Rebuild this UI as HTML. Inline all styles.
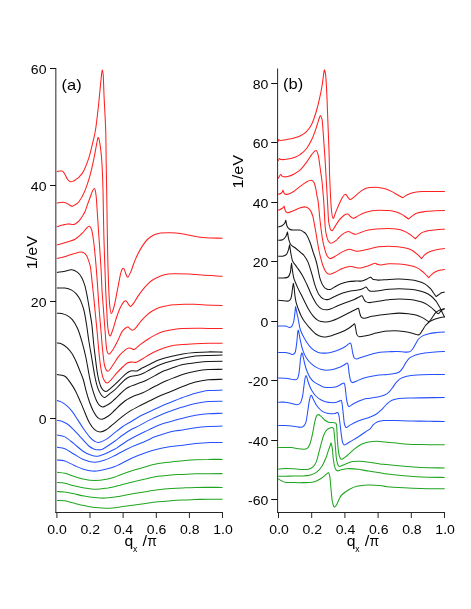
<!DOCTYPE html>
<html><head><meta charset="utf-8">
<style>
html,body{margin:0;padding:0;background:#fff;}
svg{display:block;font-family:"Liberation Sans",sans-serif;}
.c path{fill:none;stroke-width:1.05;stroke-linejoin:round;stroke-linecap:butt;}
.ax{stroke:#262626;stroke-width:1;fill:none;}
text{fill:#000;}
.t{opacity:0.999;}
</style></head><body>
<svg width="471" height="609" viewBox="0 0 471 609">
<rect width="471" height="609" fill="#fff"/>
<g class="c">
<path d="M56.8 171.5C57.3 171.4 59.0 171.2 60.0 171.1C61.0 171.0 61.7 170.6 62.5 171.2C63.3 171.8 64.2 173.0 65.0 174.4C65.8 175.8 66.7 178.3 67.6 179.5C68.5 180.7 69.7 181.4 70.6 181.7C71.5 182.0 72.4 181.5 73.2 181.2C74.0 180.9 74.2 180.8 75.2 180.0C76.2 179.2 78.1 178.1 79.5 176.6C80.9 175.1 82.2 174.0 83.8 170.8C85.4 167.6 87.6 161.7 89.1 157.2C90.5 152.7 91.4 148.1 92.5 143.6C93.6 139.1 94.6 135.6 95.5 130.0C96.4 124.4 97.2 116.7 98.0 110.0C98.8 103.3 99.4 95.8 100.0 90.0C100.6 84.2 101.1 78.3 101.5 75.0C101.9 71.7 102.0 69.9 102.3 69.9C102.6 69.9 102.9 70.8 103.2 75.0C103.5 79.2 103.6 85.8 104.0 95.0C104.4 104.2 105.3 118.5 105.7 130.0C106.1 141.5 106.0 152.7 106.2 164.0C106.4 175.3 106.6 183.7 106.8 198.0C107.0 212.3 107.3 234.7 107.6 250.0C107.9 265.3 108.4 280.7 108.8 290.0C109.2 299.3 109.4 302.1 109.8 306.0C110.2 309.9 110.6 313.4 111.3 313.4C112.0 313.4 113.3 309.4 114.2 306.0C115.1 302.6 116.2 296.4 116.8 293.2C117.4 290.0 117.3 290.6 118.0 287.0C118.7 283.4 120.1 274.9 121.1 271.8C122.0 268.7 122.9 268.0 123.7 268.4C124.5 268.8 125.2 272.5 125.9 274.0C126.6 275.5 127.0 277.5 127.8 277.2C128.6 276.9 129.7 274.4 130.7 272.1C131.7 269.8 132.7 266.2 133.9 263.2C135.1 260.2 136.2 257.3 137.7 254.3C139.2 251.3 141.1 248.0 142.8 245.4C144.5 242.8 146.0 240.8 147.9 239.0C149.8 237.2 152.2 235.8 154.3 234.8C156.4 233.8 158.4 233.3 160.7 233.0C163.0 232.7 165.8 232.7 168.3 232.7C170.9 232.7 173.2 232.6 176.0 232.9C178.8 233.2 181.8 233.7 185.0 234.3C188.2 234.9 192.1 235.9 195.5 236.5C198.9 237.1 201.2 237.4 205.7 237.7C210.2 238.0 219.7 238.1 222.5 238.2" stroke="#ff2020"/>
<path d="M56.8 203.2C57.3 203.1 58.7 202.7 60.0 202.6C61.3 202.5 63.1 202.2 64.4 202.4C65.7 202.6 66.7 203.4 68.0 204.0C69.3 204.6 70.8 206.1 72.0 206.2C73.2 206.3 74.3 205.2 75.5 204.5C76.7 203.8 77.4 204.0 78.9 201.8C80.5 199.6 83.0 195.4 84.8 191.1C86.6 186.8 88.3 181.6 89.9 175.9C91.5 170.2 93.1 162.6 94.2 157.2C95.3 151.8 96.0 146.9 96.7 143.6C97.4 140.3 97.8 137.0 98.4 137.6C99.0 138.2 99.8 142.6 100.4 147.0C101.0 151.4 101.6 156.8 102.0 164.0C102.4 171.2 102.7 177.3 103.0 190.0C103.3 202.7 103.5 223.3 104.0 240.0C104.5 256.7 105.2 278.1 105.7 290.0C106.2 301.9 106.5 305.0 106.8 311.2C107.1 317.4 107.3 323.1 107.8 327.2C108.3 331.3 109.1 335.4 109.9 335.9C110.7 336.4 111.4 333.5 112.6 330.3C113.8 327.1 115.4 320.6 116.8 316.5C118.2 312.4 119.6 308.5 121.1 305.9C122.5 303.3 124.3 301.1 125.5 300.8C126.7 300.5 127.7 303.4 128.5 304.3C129.3 305.2 129.6 306.7 130.5 306.5C131.4 306.3 132.7 304.5 133.9 302.9C135.1 301.2 136.2 298.8 137.7 296.6C139.2 294.4 141.1 291.7 142.8 289.6C144.5 287.5 146.2 285.4 147.9 283.8C149.6 282.2 150.9 281.1 153.0 279.8C155.1 278.5 158.1 277.0 160.7 276.0C163.2 275.0 165.8 274.4 168.3 274.0C170.9 273.6 172.5 273.7 176.0 273.7C179.5 273.7 184.8 273.8 189.1 274.0C193.4 274.2 196.2 274.7 201.8 275.1C207.4 275.5 219.1 276.0 222.5 276.2" stroke="#ff2020"/>
<path d="M56.8 226.8C57.8 226.5 60.6 225.6 62.5 225.1C64.4 224.6 66.4 224.0 68.1 223.9C69.8 223.8 71.5 224.5 72.8 224.5C74.0 224.5 74.5 224.3 75.6 223.7C76.7 223.0 78.2 221.8 79.3 220.6C80.4 219.4 81.3 218.1 82.2 216.6C83.1 215.1 84.1 213.7 84.9 211.8C85.7 209.9 86.4 207.7 87.2 205.4C88.0 203.1 89.0 200.4 89.9 198.0C90.8 195.6 91.7 192.7 92.5 191.1C93.3 189.5 94.0 188.4 94.5 188.6C95.0 188.8 95.3 190.1 95.6 192.0C95.9 193.9 96.2 195.8 96.5 200.0C96.8 204.2 97.1 209.9 97.6 217.0C98.1 224.1 98.7 234.0 99.3 242.5C99.9 251.0 100.5 260.1 101.0 268.0C101.5 275.9 101.6 282.8 102.0 290.0C102.4 297.2 103.1 304.1 103.6 311.2C104.1 318.3 104.7 326.0 105.2 332.5C105.7 339.0 106.1 346.4 106.8 350.0C107.5 353.6 108.1 354.2 109.2 354.1C110.3 354.0 111.8 351.5 113.2 349.2C114.7 346.9 116.4 343.5 117.9 340.5C119.4 337.5 120.6 333.6 122.2 331.4C123.8 329.2 126.2 327.5 127.5 327.1C128.8 326.7 129.2 328.3 130.0 328.8C130.8 329.3 131.4 330.5 132.4 330.3C133.4 330.1 134.5 329.2 135.8 327.8C137.1 326.4 138.7 323.9 140.3 322.0C141.9 320.1 143.5 318.1 145.4 316.3C147.3 314.5 149.5 312.7 151.8 311.2C154.1 309.7 156.7 308.4 159.4 307.4C162.2 306.4 165.5 305.8 168.3 305.4C171.1 304.9 173.2 304.9 176.0 304.7C178.8 304.5 182.0 304.4 185.0 304.3C188.0 304.2 190.7 304.2 194.0 304.3C197.3 304.4 200.2 304.8 205.0 305.0C209.8 305.2 219.6 305.5 222.5 305.6" stroke="#ff2020"/>
<path d="M56.8 245.0C58.5 244.5 63.9 243.0 67.0 242.0C70.1 241.0 73.0 240.5 75.5 239.0C78.0 237.5 80.5 235.0 82.3 233.2C84.1 231.4 85.3 229.5 86.5 228.3C87.7 227.2 88.6 226.1 89.4 226.3C90.2 226.5 90.9 227.2 91.6 229.7C92.3 232.1 92.9 236.1 93.6 241.0C94.2 245.9 94.9 252.6 95.5 259.4C96.1 266.2 96.7 273.4 97.3 282.0C97.9 290.6 98.6 302.4 99.3 311.2C100.0 320.0 100.7 328.2 101.3 335.0C101.9 341.8 102.2 346.9 102.8 352.0C103.3 357.1 103.8 362.3 104.6 365.5C105.4 368.7 106.5 371.3 107.8 371.3C109.1 371.3 110.7 368.1 112.6 365.5C114.5 362.9 116.9 358.5 119.0 355.9C121.1 353.3 123.6 351.1 125.3 349.8C127.0 348.5 128.0 348.3 129.0 348.1C130.0 347.9 130.6 348.4 131.5 348.6C132.4 348.8 133.1 350.0 134.5 349.3C135.9 348.6 138.0 346.2 140.2 344.6C142.4 343.0 145.2 341.0 147.5 339.5C149.8 338.0 151.7 336.7 154.3 335.4C156.9 334.1 160.0 332.6 163.2 331.6C166.4 330.6 170.2 329.9 173.4 329.4C176.7 328.9 179.0 328.6 182.7 328.4C186.4 328.2 191.2 328.2 195.5 328.2C199.8 328.2 203.7 328.4 208.2 328.4C212.7 328.4 220.1 328.4 222.5 328.4" stroke="#ff2020"/>
<path d="M56.8 258.6C58.5 258.2 63.9 256.9 67.0 256.0C70.1 255.1 73.1 253.8 75.5 253.2C77.9 252.5 80.0 252.0 81.6 252.1C83.2 252.2 84.0 252.9 85.0 253.7C86.0 254.5 86.6 255.7 87.3 257.1C88.0 258.6 88.6 260.5 89.2 262.4C89.8 264.3 90.2 265.0 90.7 268.7C91.2 272.4 91.9 280.2 92.4 284.6C92.9 289.0 93.0 290.6 93.5 295.0C94.0 299.4 94.5 304.9 95.1 311.2C95.7 317.4 96.5 325.1 97.2 332.5C97.9 339.9 98.6 349.3 99.3 355.9C100.0 362.4 100.7 367.7 101.5 371.8C102.3 375.9 103.1 378.4 104.1 380.3C105.1 382.2 106.1 383.2 107.3 383.0C108.5 382.8 109.9 381.0 111.5 379.3C113.1 377.6 114.8 375.0 116.8 372.9C118.8 370.8 121.4 368.2 123.2 366.5C125.0 364.8 126.2 363.4 127.7 362.7C129.2 362.0 130.6 362.2 132.0 362.1C133.4 362.0 134.5 362.8 136.3 362.2C138.1 361.6 140.3 360.2 142.7 358.8C145.0 357.4 147.6 355.5 150.4 354.0C153.2 352.5 155.9 351.1 159.3 349.7C162.7 348.3 166.9 346.8 170.8 345.9C174.7 345.0 178.6 344.9 182.7 344.5C186.8 344.1 191.2 343.9 195.5 343.7C199.8 343.5 203.7 343.4 208.2 343.3C212.7 343.2 220.1 343.3 222.5 343.3" stroke="#ff2020"/>
<path d="M56.9 272.4C58.0 272.2 61.3 271.8 63.8 271.4C66.3 271.0 69.5 269.6 71.8 269.8C74.1 270.0 75.9 271.1 77.6 272.4C79.3 273.7 80.6 275.4 81.8 277.7C83.0 280.0 84.0 282.6 85.0 286.2C86.0 289.8 86.9 294.8 87.7 299.0C88.5 303.2 89.1 307.4 89.8 311.7C90.5 316.0 91.3 319.9 91.9 325.0C92.5 330.1 93.0 336.9 93.5 342.0C94.0 347.1 94.4 350.4 95.1 355.9C95.8 361.4 96.7 369.9 97.7 375.0C98.7 380.1 99.6 383.9 100.9 386.7C102.2 389.4 104.1 391.2 105.7 391.5C107.3 391.8 109.0 389.5 110.5 388.3C112.0 387.1 113.4 385.8 115.0 384.3C116.6 382.8 118.4 381.0 120.1 379.3C121.8 377.6 123.7 375.6 125.2 374.3C126.8 373.0 128.1 372.0 129.4 371.4C130.7 370.8 131.5 370.9 132.8 370.8C134.1 370.7 135.4 371.4 137.1 370.9C138.8 370.4 140.5 368.9 142.7 367.8C144.9 366.7 147.6 365.3 150.4 364.0C153.2 362.7 155.9 361.0 159.3 359.8C162.7 358.6 166.9 357.6 170.8 356.6C174.7 355.6 178.6 354.6 182.7 353.9C186.8 353.2 191.2 352.8 195.5 352.5C199.8 352.2 203.7 352.0 208.2 351.9C212.7 351.8 220.1 352.1 222.5 352.1" stroke="#141414"/>
<path d="M56.9 288.0C58.2 288.0 62.5 287.8 64.9 288.1C67.3 288.4 69.3 288.9 71.2 289.9C73.1 290.9 74.9 292.3 76.5 294.2C78.1 296.1 79.5 298.4 80.8 301.1C82.0 303.8 83.0 306.6 84.0 310.6C85.0 314.6 85.8 320.1 86.6 325.0C87.4 329.9 87.9 334.9 88.7 340.0C89.5 345.1 90.4 350.1 91.4 355.9C92.4 361.7 93.5 369.7 94.6 375.0C95.6 380.3 96.5 384.4 97.7 387.8C98.9 391.2 100.3 393.6 101.5 395.2C102.7 396.8 103.3 397.8 104.8 397.4C106.3 397.0 108.8 394.4 110.5 393.1C112.2 391.8 113.4 391.1 115.0 389.7C116.6 388.2 118.4 386.1 120.1 384.4C121.8 382.7 123.5 380.8 125.2 379.5C126.9 378.2 128.8 377.2 130.3 376.6C131.9 376.0 133.1 376.0 134.5 375.7C135.9 375.4 137.2 375.4 138.8 375.0C140.4 374.6 142.0 373.9 143.9 373.0C145.8 372.1 147.8 370.8 150.4 369.5C153.0 368.2 155.9 366.4 159.3 365.0C162.7 363.6 166.9 362.4 170.8 361.3C174.7 360.2 178.6 359.1 182.7 358.2C186.8 357.3 191.2 356.5 195.5 356.0C199.8 355.5 203.7 355.5 208.2 355.4C212.7 355.2 220.1 355.2 222.5 355.1" stroke="#141414"/>
<path d="M56.9 313.3C57.7 313.3 60.0 313.1 61.7 313.5C63.4 313.9 65.2 314.4 67.0 315.4C68.8 316.4 70.5 317.5 72.3 319.7C74.1 321.9 76.0 324.9 77.6 328.5C79.2 332.1 80.4 336.3 81.8 341.2C83.2 346.1 84.8 352.2 86.0 358.0C87.2 363.8 88.3 371.1 89.3 376.0C90.3 380.9 90.8 383.6 92.0 387.7C93.2 391.8 95.0 397.4 96.3 400.3C97.5 403.2 98.4 404.2 99.5 405.3C100.6 406.4 101.3 407.2 103.0 407.0C104.7 406.8 107.4 405.1 109.4 403.8C111.4 402.5 113.2 400.6 115.0 399.0C116.8 397.4 118.4 395.6 120.1 394.0C121.8 392.4 123.5 390.6 125.2 389.3C126.9 388.0 128.7 387.2 130.3 386.4C131.9 385.6 133.3 385.3 135.0 384.7C136.7 384.1 138.6 383.4 140.5 382.6C142.4 381.9 144.0 381.4 146.4 380.2C148.8 379.0 152.4 377.0 155.0 375.6C157.6 374.2 159.4 372.9 162.0 371.7C164.6 370.5 167.4 369.8 170.8 368.6C174.2 367.4 178.6 365.6 182.7 364.6C186.8 363.6 191.2 363.2 195.5 362.7C199.8 362.2 203.7 361.7 208.2 361.5C212.7 361.3 220.1 361.3 222.5 361.3" stroke="#141414"/>
<path d="M56.9 343.0C57.7 343.1 60.0 343.1 61.7 343.9C63.4 344.7 65.2 345.9 67.0 347.6C68.8 349.3 70.7 351.5 72.3 354.0C73.9 356.5 75.1 359.3 76.5 362.5C77.9 365.7 79.6 370.2 80.8 373.1C82.0 376.0 82.5 377.0 83.4 380.0C84.3 383.0 85.1 387.2 86.1 390.9C87.1 394.6 88.3 398.6 89.5 402.0C90.7 405.4 92.1 408.9 93.5 411.5C94.9 414.1 96.3 416.3 97.7 417.6C99.1 418.9 100.2 419.5 102.0 419.2C103.8 418.9 106.2 417.5 108.4 416.0C110.6 414.5 113.0 411.8 115.0 410.0C117.0 408.2 118.4 406.5 120.1 405.0C121.8 403.5 123.5 402.0 125.2 400.8C126.9 399.6 128.4 398.8 130.3 397.8C132.2 396.9 134.5 395.9 136.5 395.1C138.5 394.3 140.1 393.9 142.2 393.0C144.3 392.1 146.8 390.8 149.0 389.6C151.2 388.4 152.7 387.4 155.5 386.0C158.3 384.6 162.3 382.5 165.7 381.0C169.1 379.5 173.1 378.1 175.9 377.0C178.7 375.9 179.4 375.4 182.7 374.5C186.0 373.6 191.2 372.1 195.5 371.3C199.8 370.5 203.7 369.9 208.2 369.6C212.7 369.3 220.1 369.4 222.5 369.3" stroke="#141414"/>
<path d="M56.9 374.4C57.7 374.5 60.2 374.8 61.7 375.2C63.2 375.6 64.5 375.8 65.9 377.0C67.3 378.2 68.6 380.1 70.2 382.4C71.8 384.7 73.7 387.5 75.5 390.9C77.3 394.3 79.2 399.0 80.8 402.6C82.4 406.2 83.6 409.5 85.0 412.8C86.4 416.1 87.7 419.7 89.3 422.5C90.9 425.3 92.8 428.1 94.6 429.7C96.4 431.3 98.3 432.0 100.2 432.0C102.1 432.0 103.8 431.3 106.2 429.8C108.6 428.3 111.9 425.2 114.7 422.9C117.5 420.6 120.7 417.8 123.2 415.8C125.8 413.8 127.2 412.8 130.0 411.1C132.8 409.4 136.8 407.3 140.2 405.5C143.6 403.7 147.0 402.2 150.4 400.5C153.8 398.8 157.2 397.0 160.6 395.5C164.0 394.0 167.1 392.9 170.8 391.4C174.5 389.9 178.6 388.2 182.7 386.6C186.8 385.1 191.2 383.2 195.5 382.1C199.8 381.0 203.7 380.3 208.2 379.8C212.7 379.3 220.1 379.4 222.5 379.3" stroke="#141414"/>
<path d="M56.9 400.5C57.7 400.8 60.0 401.2 61.7 402.1C63.4 403.0 65.2 404.2 67.0 405.8C68.8 407.4 70.5 409.3 72.3 411.6C74.1 413.9 75.8 416.8 77.6 419.6C79.4 422.4 81.2 425.3 83.2 428.2C85.2 431.1 87.7 434.6 89.6 436.8C91.5 439.0 93.1 440.3 94.6 441.2C96.1 442.1 96.9 442.7 98.8 442.4C100.7 442.1 103.5 441.0 106.2 439.4C108.9 437.8 111.9 434.9 114.7 432.7C117.5 430.5 120.7 427.9 123.2 426.2C125.8 424.5 127.2 424.0 130.0 422.3C132.8 420.6 136.8 417.8 140.2 416.0C143.6 414.2 147.0 412.9 150.4 411.3C153.8 409.7 157.2 407.9 160.6 406.4C164.0 404.9 167.1 403.7 170.8 402.2C174.5 400.7 178.6 399.0 182.7 397.5C186.8 396.0 191.2 394.3 195.5 393.2C199.8 392.1 203.7 391.1 208.2 390.6C212.7 390.1 220.1 390.2 222.5 390.1" stroke="#2450ff"/>
<path d="M56.9 420.4C57.7 420.5 60.0 420.6 61.7 421.2C63.4 421.8 65.2 422.6 67.0 423.8C68.8 425.0 70.3 426.3 72.3 428.3C74.3 430.3 76.5 432.7 79.2 435.6C82.0 438.6 86.2 443.7 88.8 446.0C91.4 448.3 93.1 448.6 94.6 449.2C96.1 449.8 96.4 449.8 97.6 449.8C98.8 449.8 100.3 450.1 102.0 449.4C103.7 448.7 105.8 447.2 108.0 445.8C110.2 444.4 112.6 442.7 115.0 441.0C117.4 439.3 119.7 437.3 122.2 435.5C124.7 433.7 127.0 431.9 130.0 430.2C133.0 428.5 136.8 426.9 140.2 425.1C143.6 423.3 147.0 421.3 150.4 419.6C153.8 417.9 157.2 416.3 160.6 414.9C164.0 413.5 167.1 412.3 170.8 411.0C174.5 409.7 178.6 408.2 182.7 407.0C186.8 405.8 191.2 404.5 195.5 403.6C199.8 402.7 203.7 402.0 208.2 401.6C212.7 401.2 220.1 401.3 222.5 401.2" stroke="#2450ff"/>
<path d="M57.0 435.0C58.3 435.3 62.1 435.5 64.9 436.9C67.7 438.3 70.8 441.2 73.8 443.6C76.8 446.0 80.0 449.1 82.7 451.0C85.4 452.9 87.6 453.9 90.1 454.8C92.6 455.7 94.6 456.6 97.6 456.2C100.6 455.8 105.1 453.7 108.0 452.5C110.9 451.3 113.0 450.1 115.0 449.0C117.0 447.9 117.5 447.3 120.0 445.7C122.5 444.1 126.6 441.2 130.0 439.3C133.4 437.4 136.8 435.7 140.2 434.0C143.6 432.3 147.0 430.5 150.4 428.9C153.8 427.3 157.2 425.7 160.6 424.5C164.0 423.3 167.1 422.6 170.8 421.5C174.5 420.4 178.6 419.2 182.7 418.2C186.8 417.2 191.2 416.1 195.5 415.3C199.8 414.6 203.7 414.0 208.2 413.7C212.7 413.4 220.1 413.4 222.5 413.3" stroke="#2450ff"/>
<path d="M57.0 447.3C58.3 447.6 62.1 447.7 64.9 448.8C67.7 449.9 70.8 452.3 73.8 454.0C76.8 455.7 79.2 457.8 82.7 459.2C86.2 460.6 90.9 462.1 94.6 462.2C98.3 462.3 101.6 461.1 105.0 460.0C108.4 458.9 112.5 456.7 115.0 455.5C117.5 454.3 117.0 454.2 120.0 452.7C123.0 451.2 129.8 447.8 132.7 446.4C135.6 445.0 135.5 445.4 137.6 444.5C139.7 443.6 142.4 442.5 145.4 441.2C148.4 439.9 152.1 437.9 155.5 436.6C158.9 435.3 162.3 434.2 165.7 433.2C169.1 432.2 173.1 431.3 175.9 430.8C178.7 430.3 179.4 430.5 182.7 430.0C186.0 429.5 191.2 428.3 195.5 427.7C199.8 427.1 203.7 426.7 208.2 426.4C212.7 426.1 220.1 426.2 222.5 426.1" stroke="#2450ff"/>
<path d="M57.0 460.0C58.3 460.2 62.1 460.1 64.9 461.0C67.7 461.9 70.8 463.9 73.8 465.2C76.8 466.5 79.2 467.9 82.7 468.9C86.2 469.9 90.6 471.1 94.6 471.1C98.6 471.1 103.1 469.7 106.5 468.9C109.9 468.1 112.8 467.3 115.0 466.5C117.2 465.7 117.0 465.6 120.0 464.2C123.0 462.8 128.4 459.7 132.7 457.8C136.9 455.9 141.2 454.2 145.5 452.7C149.8 451.2 153.9 449.9 158.2 448.9C162.4 447.9 166.9 447.2 171.0 446.6C175.1 446.0 178.6 445.8 182.7 445.3C186.8 444.8 190.8 444.1 195.5 443.6C200.2 443.1 206.3 442.7 210.8 442.5C215.3 442.3 220.6 442.5 222.5 442.5" stroke="#2450ff"/>
<path d="M57.0 472.3C58.3 472.5 62.1 472.6 64.9 473.3C67.7 474.0 70.6 475.3 73.8 476.3C77.0 477.3 80.7 478.6 84.2 479.3C87.7 480.0 90.9 480.5 94.6 480.5C98.3 480.5 103.1 479.9 106.5 479.3C109.9 478.7 112.8 477.7 115.0 477.0C117.2 476.3 117.0 476.1 120.0 475.0C123.0 473.9 128.4 472.0 132.7 470.6C136.9 469.2 141.2 468.0 145.5 466.8C149.8 465.6 153.9 464.4 158.2 463.6C162.4 462.8 166.9 462.4 171.0 461.9C175.1 461.4 178.6 461.2 182.7 460.8C186.8 460.4 191.2 459.9 195.5 459.7C199.8 459.5 203.7 459.4 208.2 459.4C212.7 459.3 220.1 459.4 222.5 459.4" stroke="#1fa51f"/>
<path d="M57.0 482.5C58.3 482.6 62.1 482.8 64.9 483.3C67.7 483.8 70.6 484.9 73.8 485.7C77.0 486.5 80.5 487.3 84.2 487.9C87.9 488.5 92.1 489.2 96.1 489.2C100.1 489.2 104.8 488.3 108.0 487.9C111.2 487.4 113.0 486.9 115.0 486.5C117.0 486.1 117.0 485.9 120.0 485.2C123.0 484.4 128.4 483.1 132.7 482.0C136.9 480.9 141.2 479.8 145.5 478.9C149.8 477.9 153.9 477.0 158.2 476.3C162.4 475.6 166.9 475.2 171.0 474.9C175.1 474.6 178.6 474.6 182.7 474.4C186.8 474.2 188.9 473.9 195.5 473.8C202.1 473.7 218.0 473.6 222.5 473.6" stroke="#1fa51f"/>
<path d="M57.0 491.6C58.3 491.7 62.1 491.5 64.9 491.9C67.7 492.2 70.6 493.0 73.8 493.7C77.0 494.4 80.7 495.5 84.2 496.1C87.7 496.8 91.1 497.3 94.6 497.6C98.1 497.9 101.6 498.2 105.0 498.1C108.4 498.0 112.5 497.3 115.0 497.0C117.5 496.7 117.0 496.7 120.0 496.2C123.0 495.7 128.4 494.6 132.7 493.8C136.9 493.1 141.2 492.4 145.5 491.7C149.8 491.0 153.9 490.3 158.2 489.8C162.4 489.3 166.9 488.9 171.0 488.6C175.1 488.3 178.6 488.1 182.7 487.9C186.8 487.7 188.9 487.5 195.5 487.4C202.1 487.3 218.0 487.4 222.5 487.4" stroke="#1fa51f"/>
<path d="M57.0 500.4C58.3 500.5 62.1 500.4 64.9 500.8C67.7 501.2 70.6 502.3 73.8 503.1C77.0 503.9 80.7 504.9 84.2 505.6C87.7 506.3 90.4 507.1 94.6 507.5C98.8 507.9 105.2 508.4 109.4 508.3C113.6 508.2 116.1 507.6 120.0 507.1C123.9 506.6 128.4 505.8 132.7 505.2C136.9 504.6 141.2 504.0 145.5 503.4C149.8 502.8 153.9 502.2 158.2 501.8C162.4 501.4 166.9 501.1 171.0 500.8C175.1 500.5 178.6 500.3 182.7 500.1C186.8 499.9 191.2 499.6 195.5 499.5C199.8 499.4 203.7 499.2 208.2 499.2C212.7 499.1 220.1 499.2 222.5 499.2" stroke="#1fa51f"/>
<path d="M278.2 141.6C278.3 141.2 278.4 139.7 278.8 139.5C279.2 139.3 279.2 140.5 280.7 140.5C282.2 140.5 285.5 139.7 287.7 139.3C289.9 138.9 292.0 138.5 294.1 137.9C296.2 137.3 298.5 136.7 300.5 135.7C302.5 134.7 304.3 133.7 306.2 131.8C308.1 129.9 309.9 128.0 311.6 124.5C313.3 121.0 315.1 115.4 316.4 111.0C317.7 106.6 318.7 102.5 319.6 98.2C320.6 94.0 321.5 89.4 322.1 85.5C322.8 81.6 323.1 77.6 323.5 75.0C323.9 72.4 324.1 70.2 324.4 69.9C324.7 69.6 325.0 71.5 325.3 73.0C325.6 74.5 325.7 74.9 326.0 79.1C326.3 83.3 326.7 90.5 327.0 98.2C327.3 105.9 327.7 116.3 328.0 125.0C328.3 133.7 328.7 142.0 329.0 150.5C329.3 159.0 329.4 168.5 329.6 176.0C329.9 183.5 330.2 189.8 330.5 195.5C330.8 201.2 331.1 206.7 331.5 210.5C331.9 214.3 332.5 218.2 333.2 218.4C333.9 218.7 334.8 214.3 335.8 212.0C336.8 209.7 337.8 206.9 339.0 204.4C340.2 201.9 341.7 198.5 342.8 196.8C343.9 195.1 344.8 194.1 345.6 194.2C346.5 194.3 347.1 196.5 347.9 197.4C348.7 198.3 349.4 199.7 350.5 199.6C351.6 199.5 352.8 198.0 354.3 196.8C355.8 195.6 357.7 193.6 359.4 192.3C361.1 191.0 362.8 189.9 364.5 189.1C366.2 188.3 367.7 187.9 369.6 187.6C371.5 187.3 374.3 187.2 376.0 187.2C377.7 187.2 378.4 187.5 380.0 187.8C381.6 188.1 383.9 188.4 385.9 189.0C387.9 189.6 389.9 190.6 391.9 191.6C393.9 192.6 396.0 194.0 397.8 195.0C399.6 196.0 401.9 197.3 402.7 197.8C403.4 197.3 405.1 195.8 406.8 195.0C408.5 194.2 410.2 193.3 412.7 192.7C415.2 192.1 418.4 191.8 421.6 191.6C424.8 191.4 428.1 191.4 432.0 191.4C435.9 191.4 442.8 191.4 444.9 191.4" stroke="#ff2020"/>
<path d="M278.2 160.7C278.4 160.3 279.0 158.8 279.5 158.6C280.0 158.4 280.0 159.5 281.4 159.6C282.8 159.7 285.6 159.4 287.7 159.1C289.8 158.8 292.0 158.3 294.1 157.5C296.2 156.7 298.4 155.9 300.5 154.3C302.6 152.8 304.9 150.7 306.8 148.2C308.7 145.7 310.5 142.0 311.9 139.2C313.3 136.4 314.2 133.8 315.1 131.3C316.0 128.8 316.7 126.2 317.4 124.0C318.1 121.8 318.8 119.4 319.3 118.0C319.8 116.6 320.1 115.4 320.5 115.4C320.9 115.4 321.3 116.9 321.6 118.0C321.9 119.1 322.0 117.7 322.4 122.0C322.8 126.3 323.5 137.2 324.0 144.1C324.5 151.0 324.9 156.8 325.3 163.2C325.7 169.6 326.0 175.9 326.4 182.3C326.8 188.7 327.1 195.4 327.5 201.8C327.9 208.2 328.2 216.5 328.6 221.0C329.1 225.5 329.6 227.0 330.2 228.6C330.8 230.2 331.6 230.9 332.4 230.5C333.2 230.1 334.1 227.8 335.2 226.1C336.3 224.4 337.5 222.1 339.0 220.3C340.5 218.5 342.7 216.2 344.1 215.2C345.6 214.1 346.6 213.8 347.7 214.0C348.8 214.2 349.5 215.8 350.5 216.5C351.5 217.2 352.4 218.3 353.7 218.2C355.0 218.1 356.3 216.8 358.1 215.9C359.9 215.0 362.2 213.5 364.5 212.7C366.8 211.8 369.8 211.2 372.1 210.8C374.4 210.4 375.7 210.3 378.5 210.3C381.3 210.3 385.9 210.3 388.9 210.6C391.9 210.9 394.1 211.4 396.3 212.1C398.5 212.8 400.7 213.7 402.3 214.6C403.9 215.5 404.9 216.6 406.0 217.3C407.1 218.0 408.2 218.7 408.7 219.0C409.2 218.5 410.6 217.1 412.0 216.1C413.4 215.1 415.1 213.8 417.2 213.1C419.3 212.3 421.6 212.0 424.6 211.6C427.6 211.2 431.6 210.9 435.0 210.7C438.4 210.5 443.2 210.4 444.9 210.4" stroke="#ff2020"/>
<path d="M278.2 178.5C278.6 177.8 280.0 174.8 280.7 174.5C281.4 174.2 281.4 176.2 282.6 176.6C283.8 176.9 285.8 177.0 287.7 176.6C289.6 176.2 292.0 175.2 294.1 174.0C296.2 172.8 298.4 171.6 300.5 169.6C302.6 167.6 304.9 164.4 306.8 161.9C308.7 159.4 310.4 156.2 311.9 154.3C313.4 152.4 314.9 150.3 316.0 150.5C317.1 150.7 317.6 152.6 318.3 155.6C319.0 158.6 319.6 163.9 320.2 168.3C320.8 172.8 321.6 177.5 322.1 182.3C322.6 187.1 323.0 192.5 323.4 197.0C323.8 201.5 323.9 203.9 324.2 209.1C324.5 214.3 324.9 223.7 325.3 228.2C325.7 232.7 326.1 233.8 326.6 236.0C327.1 238.2 327.8 240.1 328.5 241.3C329.2 242.5 329.8 243.2 330.7 243.3C331.6 243.4 332.9 242.5 333.9 242.0C334.9 241.5 335.6 240.8 336.5 240.1C337.4 239.3 337.7 238.7 339.0 237.5C340.3 236.3 342.5 234.1 344.1 233.1C345.7 232.1 347.3 231.5 348.6 231.5C349.9 231.5 350.6 232.6 351.8 233.1C353.0 233.6 354.1 234.4 355.6 234.3C357.1 234.2 358.6 233.1 360.7 232.4C362.8 231.7 365.8 230.7 368.3 230.1C370.9 229.5 372.6 229.2 376.0 228.9C379.4 228.6 385.5 228.4 388.9 228.4C392.3 228.4 393.8 228.6 396.3 229.0C398.8 229.4 401.6 230.0 403.8 230.9C406.0 231.8 408.1 233.1 409.7 234.2C411.3 235.2 412.4 236.4 413.4 237.2C414.3 238.0 415.1 238.5 415.4 238.8C415.8 238.4 416.7 237.2 417.9 236.1C419.1 235.0 420.5 233.3 422.4 232.4C424.2 231.5 426.4 231.0 429.0 230.5C431.6 230.0 435.4 229.8 438.0 229.6C440.6 229.4 443.8 229.3 444.9 229.2" stroke="#ff2020"/>
<path d="M278.2 194.4C278.8 194.2 280.7 193.7 281.5 193.0C282.3 192.3 282.7 190.7 282.9 190.2C283.2 190.8 283.8 193.1 284.6 193.8C285.4 194.5 286.1 194.6 287.7 194.2C289.3 193.8 292.0 192.5 294.1 191.2C296.2 189.8 298.4 187.7 300.5 186.1C302.6 184.5 305.0 182.7 306.8 181.7C308.6 180.7 310.1 180.1 311.3 180.2C312.5 180.3 313.1 180.9 313.9 182.3C314.6 183.7 315.3 186.4 315.8 188.7C316.3 191.0 316.6 193.7 317.0 196.0C317.4 198.3 317.8 198.4 318.3 202.7C318.8 207.0 319.4 215.4 320.2 221.8C320.9 228.2 321.9 236.0 322.8 240.9C323.7 245.8 324.6 248.6 325.3 251.0C326.0 253.4 326.2 254.3 327.0 255.6C327.8 256.9 328.6 258.6 330.2 258.6C331.8 258.6 334.4 256.6 336.5 255.4C338.6 254.2 340.7 252.6 342.8 251.6C344.9 250.6 347.5 249.5 349.2 249.3C350.9 249.1 351.6 250.0 353.0 250.3C354.4 250.6 355.8 251.3 357.5 251.3C359.2 251.3 361.0 250.8 363.2 250.3C365.4 249.8 368.3 249.0 370.9 248.4C373.4 247.8 375.5 247.1 378.5 246.7C381.5 246.3 385.7 246.2 388.9 246.2C392.1 246.2 394.8 246.4 397.8 246.7C400.8 247.0 404.3 247.5 406.8 248.2C409.3 248.9 410.9 249.6 412.7 250.7C414.5 251.8 416.4 253.6 417.9 254.9C419.4 256.2 421.0 258.0 421.6 258.6C422.1 258.0 423.4 256.0 424.6 254.9C425.8 253.8 427.0 252.8 429.0 251.9C431.0 251.0 433.9 250.2 436.5 249.7C439.1 249.1 443.5 248.8 444.9 248.6" stroke="#ff2020"/>
<path d="M278.2 210.4C278.8 210.1 281.0 209.2 282.0 208.5C283.0 207.8 283.8 206.6 284.2 206.2C284.4 207.0 284.8 209.9 285.4 211.0C286.0 212.1 286.2 212.8 287.7 212.7C289.1 212.6 292.0 211.2 294.1 210.4C296.2 209.6 298.6 208.4 300.5 207.8C302.4 207.2 304.1 206.7 305.6 206.9C307.1 207.1 308.2 207.7 309.4 209.1C310.6 210.5 311.7 212.3 312.6 215.5C313.6 218.7 314.2 223.5 315.1 228.2C316.0 232.9 316.9 238.9 317.7 243.5C318.5 248.1 319.3 252.4 320.2 256.0C321.1 259.6 321.8 262.5 322.8 265.2C323.8 267.9 324.9 270.5 326.0 272.0C327.1 273.5 328.0 274.3 329.5 274.3C331.0 274.3 333.2 273.1 335.2 272.2C337.2 271.3 339.5 269.7 341.6 268.8C343.7 267.9 346.2 267.2 347.9 266.8C349.6 266.4 350.5 266.4 351.8 266.5C353.1 266.6 354.1 267.3 355.6 267.5C357.1 267.7 358.8 268.1 360.7 267.9C362.6 267.7 365.1 266.8 367.0 266.2C368.9 265.6 370.7 264.8 372.1 264.3C373.5 263.8 374.3 263.2 375.3 263.3C376.3 263.4 376.9 264.3 377.9 264.6C378.9 264.9 379.3 265.0 381.1 264.9C382.9 264.8 385.9 263.9 388.9 263.8C391.9 263.7 395.8 263.8 399.3 264.1C402.8 264.4 406.7 265.0 409.7 265.6C412.7 266.2 415.0 266.8 417.2 267.9C419.4 269.0 421.5 270.7 423.1 272.0C424.7 273.3 425.9 274.8 426.8 275.7C427.7 276.6 428.4 277.3 428.7 277.6C429.1 277.2 430.2 275.8 431.3 274.9C432.4 274.0 433.6 272.8 435.0 272.0C436.4 271.2 437.8 270.6 439.4 270.2C441.0 269.8 444.0 269.5 444.9 269.4" stroke="#ff2020"/>
<path d="M278.2 226.9C278.8 226.7 280.9 226.3 282.0 225.7C283.1 225.1 283.9 224.4 284.5 223.5C285.1 222.6 285.6 220.8 285.8 220.3C286.0 221.3 286.5 224.8 287.1 226.3C287.7 227.8 288.7 228.7 289.6 229.3C290.5 229.9 290.8 229.8 292.5 229.9C294.2 230.0 298.1 229.8 299.8 230.1C301.6 230.4 301.9 230.9 303.0 231.6C304.1 232.3 305.0 232.5 306.2 234.3C307.4 236.1 308.8 239.2 310.0 242.2C311.2 245.2 312.2 249.4 313.2 252.4C314.2 255.4 315.1 257.4 315.8 260.0C316.6 262.6 317.0 264.5 317.7 267.7C318.4 270.9 319.2 276.1 320.2 279.2C321.1 282.3 322.2 284.5 323.4 286.2C324.6 287.9 325.9 288.7 327.2 289.2C328.5 289.7 329.9 289.5 331.0 289.2C332.1 288.9 332.3 288.3 333.9 287.4C335.4 286.5 338.0 284.9 340.3 284.0C342.6 283.1 345.3 282.3 347.9 281.8C350.4 281.3 353.3 281.2 355.6 281.1C357.9 281.0 360.0 281.3 361.9 280.9C363.8 280.5 365.6 279.5 367.0 278.9C368.4 278.3 369.6 277.2 370.6 277.3C371.6 277.4 371.9 278.9 372.8 279.3C373.7 279.7 374.8 279.7 376.0 279.8C377.2 279.9 377.9 280.2 380.0 280.1C382.1 280.0 385.7 279.6 388.9 279.4C392.1 279.2 395.8 279.0 399.3 279.1C402.8 279.2 406.6 279.5 409.7 279.8C412.8 280.1 415.4 280.5 417.9 281.2C420.4 281.9 422.7 282.6 424.8 283.9C426.9 285.2 429.1 287.2 430.7 288.9C432.2 290.5 433.2 292.5 434.1 293.8C435.0 295.1 435.8 296.1 436.1 296.6C436.5 296.3 437.7 295.4 438.6 294.8C439.5 294.2 440.5 293.2 441.5 292.8C442.5 292.4 444.2 292.2 444.7 292.1" stroke="#141414"/>
<path d="M278.2 240.3C278.9 240.2 281.3 240.3 282.6 239.7C283.9 239.1 285.0 237.8 285.8 236.5C286.6 235.2 287.2 232.8 287.5 232.0C287.7 233.3 288.2 237.6 288.8 239.7C289.4 241.8 289.8 243.4 290.9 244.8C292.0 246.2 293.8 246.7 295.4 248.0C297.0 249.3 299.1 251.2 300.5 252.4C301.9 253.7 302.7 253.8 304.0 255.5C305.3 257.2 306.8 259.3 308.1 262.4C309.4 265.5 310.7 270.2 311.9 274.1C313.1 278.0 313.9 282.2 315.1 285.6C316.3 289.0 317.5 292.3 318.9 294.5C320.3 296.7 321.8 298.1 323.4 298.9C325.0 299.7 326.5 299.8 328.5 299.4C330.5 299.0 332.8 297.4 335.2 296.3C337.6 295.2 340.2 293.9 342.8 293.0C345.4 292.1 347.9 291.5 350.5 291.0C353.1 290.5 356.0 290.4 358.1 290.0C360.2 289.6 361.9 289.0 363.2 288.5C364.5 288.0 365.1 286.8 366.0 287.0C366.9 287.2 367.5 289.1 368.3 289.8C369.1 290.5 369.6 291.1 370.9 291.3C372.2 291.5 374.5 291.1 376.0 291.0C377.5 290.9 377.9 290.8 380.0 290.5C382.1 290.2 385.7 289.6 388.9 289.3C392.1 289.0 395.8 288.7 399.3 288.7C402.8 288.7 406.6 289.0 409.7 289.3C412.8 289.6 415.4 289.9 417.9 290.5C420.4 291.1 422.7 291.7 424.8 292.6C426.9 293.5 428.9 294.5 430.7 295.8C432.5 297.1 434.2 299.0 435.6 300.7C437.0 302.4 438.1 304.4 439.1 306.1C440.1 307.8 440.8 309.5 441.5 311.0C442.2 312.5 443.0 314.0 443.5 315.0C444.0 316.0 444.5 316.8 444.7 317.2" stroke="#141414"/>
<path d="M278.2 256.2C278.9 256.2 281.2 256.5 282.6 256.2C284.0 255.9 285.5 255.4 286.5 254.3C287.5 253.2 287.9 251.5 288.4 249.9C288.9 248.3 289.4 245.7 289.6 244.8C289.8 245.9 290.2 249.2 290.5 251.1C290.8 253.0 291.0 254.3 291.4 256.0C291.8 257.7 291.8 259.4 292.8 261.4C293.8 263.3 295.7 265.4 297.3 267.7C298.9 270.0 300.8 272.6 302.4 275.4C304.0 278.2 305.2 280.9 306.8 284.3C308.4 287.7 310.2 292.4 311.9 295.8C313.6 299.2 315.3 302.5 317.0 304.7C318.7 306.9 320.4 308.2 322.1 309.1C323.8 310.0 325.7 309.9 327.2 309.8C328.7 309.8 329.2 309.5 331.0 308.8C332.8 308.1 335.3 306.7 337.7 305.7C340.1 304.7 342.6 303.8 345.4 302.8C348.2 301.8 351.9 300.6 354.3 299.5C356.7 298.4 358.7 297.1 360.0 296.5C361.3 295.9 361.7 295.4 362.3 295.9C362.9 296.4 363.3 298.4 363.9 299.3C364.5 300.2 364.9 301.1 365.8 301.6C366.8 302.2 367.9 302.6 369.6 302.6C371.3 302.6 374.3 302.0 376.0 301.7C377.7 301.4 377.9 301.2 380.0 300.9C382.1 300.6 385.7 300.0 388.9 299.7C392.1 299.4 395.8 299.0 399.3 299.0C402.8 299.0 406.6 299.2 409.7 299.5C412.8 299.8 415.4 300.3 417.9 300.9C420.4 301.5 422.7 302.2 424.8 303.2C426.9 304.2 429.1 305.9 430.7 307.1C432.3 308.3 433.5 309.5 434.6 310.5C435.7 311.5 436.5 312.5 437.1 313.0C437.8 313.5 437.9 313.9 438.5 313.6C439.1 313.4 439.8 312.1 440.5 311.5C441.2 310.9 441.8 310.2 442.5 309.8C443.2 309.4 444.3 309.1 444.7 309.0" stroke="#141414"/>
<path d="M278.2 277.9C279.1 277.9 282.2 278.0 283.9 277.9C285.5 277.8 287.0 277.9 288.1 277.0C289.2 276.1 289.8 274.2 290.3 272.5C290.8 270.8 290.8 268.5 291.0 267.0C291.2 265.5 291.5 263.9 291.6 263.3C291.8 264.7 292.2 269.0 292.6 271.6C293.0 274.2 293.2 276.4 294.1 279.2C295.0 281.9 296.4 284.9 297.9 288.1C299.4 291.3 301.3 294.9 303.0 298.3C304.7 301.7 306.4 305.5 308.1 308.5C309.8 311.5 311.5 314.1 313.2 316.1C314.9 318.1 316.4 319.6 318.3 320.6C320.2 321.6 322.5 321.8 324.7 321.9C326.9 322.0 328.8 321.8 331.4 321.0C334.0 320.2 337.3 318.6 340.3 317.2C343.3 315.8 346.6 314.0 349.2 312.7C351.8 311.4 354.1 310.3 355.6 309.6C357.1 308.9 357.7 307.8 358.4 308.3C359.1 308.8 359.1 311.2 359.6 312.7C360.1 314.2 360.5 316.3 361.3 317.2C362.1 318.1 362.7 318.3 364.5 318.2C366.3 318.1 369.5 316.8 372.1 316.3C374.7 315.8 377.2 315.4 380.0 315.0C382.8 314.6 385.7 314.2 388.9 313.9C392.1 313.6 395.8 313.1 399.3 313.1C402.8 313.1 406.9 313.6 409.7 313.9C412.5 314.2 413.9 314.4 415.9 315.0C417.9 315.6 420.0 316.5 421.8 317.4C423.6 318.3 425.5 319.6 426.7 320.4C427.9 321.1 428.8 321.6 429.2 321.9C430.0 321.5 432.1 320.2 433.9 319.5C435.7 318.8 438.0 318.1 439.8 317.7C441.6 317.3 443.9 317.1 444.7 317.0" stroke="#141414"/>
<path d="M278.2 300.2C279.4 300.3 283.5 300.9 285.2 301.0C286.9 301.1 287.6 301.3 288.5 301.0C289.4 300.7 290.0 300.1 290.5 299.3C291.0 298.5 291.2 297.4 291.5 296.0C291.8 294.6 292.0 292.6 292.2 291.0C292.4 289.4 292.6 287.8 292.8 286.5C293.0 285.2 293.3 283.9 293.4 283.4C293.5 284.1 293.9 285.5 294.1 287.5C294.4 289.5 294.6 292.8 294.9 295.3C295.2 297.8 295.5 300.0 296.1 302.3C296.7 304.6 297.5 306.7 298.3 309.0C299.1 311.3 300.2 313.8 301.2 315.9C302.2 318.0 303.1 319.6 304.5 321.5C305.9 323.4 307.5 325.5 309.4 327.6C311.3 329.7 313.7 332.5 315.8 334.0C317.9 335.5 320.1 336.4 322.1 336.8C324.1 337.2 326.4 336.8 328.0 336.6C329.6 336.4 329.3 336.4 331.4 335.7C333.4 335.0 337.6 333.7 340.3 332.5C343.1 331.3 345.9 329.9 347.9 328.7C349.9 327.5 351.3 326.3 352.4 325.5C353.5 324.7 354.1 323.5 354.6 323.9C355.1 324.3 355.2 326.2 355.6 328.0C356.0 329.8 356.2 332.9 356.8 334.4C357.4 335.8 357.9 336.5 359.4 336.7C360.9 336.9 363.0 336.3 365.8 335.7C368.6 335.1 373.6 333.7 376.0 333.1C378.4 332.5 378.1 332.5 380.0 332.2C381.9 331.9 384.9 331.4 387.4 331.1C389.9 330.9 392.2 330.6 394.9 330.7C397.6 330.8 401.1 331.2 403.8 331.6C406.5 332.0 409.1 332.6 411.2 333.1C413.3 333.6 415.0 334.1 416.4 334.4C417.8 334.6 418.4 335.3 419.4 334.6C420.4 333.9 421.4 331.9 422.4 330.4C423.4 328.9 424.2 327.1 425.3 325.7C426.4 324.3 427.9 323.4 429.1 321.9C430.3 320.4 431.6 318.4 432.7 316.8C433.8 315.2 434.7 313.6 435.7 312.6C436.7 311.6 437.6 311.1 438.6 310.6C439.6 310.1 440.6 309.8 441.6 309.4C442.6 309.0 444.1 308.6 444.6 308.5" stroke="#141414"/>
<path d="M278.2 326.1C279.4 326.1 283.3 325.9 285.2 326.1C287.1 326.3 288.4 327.5 289.6 327.4C290.8 327.3 291.5 326.9 292.2 325.7C292.9 324.5 293.4 323.2 294.0 320.0C294.6 316.8 295.3 308.8 295.6 306.6C295.9 308.0 296.8 312.6 297.3 314.9C297.8 317.2 298.0 317.9 298.5 320.5C299.0 323.1 299.3 326.9 300.5 330.2C301.7 333.5 303.7 337.3 305.6 340.4C307.5 343.5 309.8 346.7 311.9 348.7C314.0 350.7 316.2 351.8 318.3 352.5C320.4 353.2 322.5 353.2 324.7 353.1C326.9 353.1 329.0 352.8 331.4 352.2C333.8 351.6 336.7 350.6 339.0 349.7C341.3 348.8 343.8 347.5 345.4 346.5C347.0 345.5 347.8 344.5 348.6 343.9C349.5 343.3 350.0 342.8 350.5 343.1C351.0 343.4 351.1 344.2 351.5 345.9C351.9 347.6 352.3 351.5 352.8 353.5C353.3 355.5 353.6 357.1 354.3 358.0C355.0 358.9 355.3 359.1 356.8 358.9C358.3 358.7 360.6 357.5 363.2 356.7C365.8 355.9 369.3 354.8 372.1 354.1C374.9 353.4 377.2 352.7 380.0 352.3C382.8 351.9 385.9 351.8 388.9 351.7C391.9 351.6 395.1 351.4 397.8 351.5C400.5 351.6 403.3 352.1 405.3 352.1C407.3 352.1 408.5 352.2 409.7 351.7C410.9 351.2 411.7 350.3 412.7 349.0C413.7 347.7 414.7 345.5 415.7 343.8C416.7 342.1 417.4 340.4 418.6 339.0C419.8 337.6 421.4 336.5 423.1 335.6C424.8 334.7 426.8 334.2 429.0 333.7C431.2 333.2 433.9 332.9 436.5 332.6C439.1 332.3 443.5 332.0 444.9 331.9" stroke="#2450ff"/>
<path d="M278.2 352.5C279.4 352.5 283.2 352.3 285.2 352.5C287.2 352.7 289.0 353.5 290.3 353.8C291.6 354.1 292.2 354.6 293.0 354.4C293.8 354.1 294.6 353.8 295.2 352.3C295.8 350.8 296.0 348.1 296.4 345.5C296.8 342.9 297.1 339.2 297.3 337.0C297.5 334.8 297.7 333.1 297.8 332.0C297.9 330.9 298.1 330.3 298.2 330.2C298.3 330.1 298.5 330.6 298.7 331.5C298.9 332.4 299.1 333.5 299.4 335.3C299.7 337.1 300.1 339.4 300.7 342.1C301.3 344.8 302.2 348.7 303.2 351.4C304.2 354.1 305.3 356.2 306.6 358.2C307.9 360.2 309.3 361.8 310.9 363.3C312.5 364.8 314.2 366.1 316.0 367.1C317.8 368.1 319.8 369.0 321.5 369.5C323.2 370.0 324.1 370.3 326.0 370.3C327.9 370.3 330.2 370.1 332.6 369.5C335.0 368.9 338.4 367.6 340.3 366.9C342.2 366.1 342.9 365.6 344.1 365.0C345.3 364.4 346.6 362.9 347.3 363.1C348.0 363.3 348.0 364.2 348.3 366.0C348.6 367.8 348.8 371.5 349.2 373.9C349.6 376.3 350.0 378.9 350.5 380.3C351.0 381.8 351.3 382.5 352.4 382.6C353.4 382.7 354.6 381.8 356.8 380.9C359.0 380.0 362.6 378.4 365.8 377.5C369.0 376.6 372.4 376.0 376.0 375.5C379.6 375.0 384.2 374.8 387.4 374.5C390.5 374.2 392.9 373.9 394.9 373.5C396.9 373.1 397.9 373.0 399.3 372.0C400.7 371.0 401.9 369.2 403.0 367.6C404.1 366.0 404.9 364.0 406.0 362.4C407.1 360.8 408.1 359.1 409.7 357.9C411.3 356.6 413.2 355.7 415.7 354.9C418.2 354.1 421.4 353.5 424.6 353.0C427.8 352.5 431.6 352.3 435.0 352.0C438.4 351.7 443.2 351.5 444.9 351.4" stroke="#2450ff"/>
<path d="M278.2 378.0C279.4 378.0 283.0 378.0 285.2 378.2C287.4 378.4 290.0 378.9 291.6 379.2C293.2 379.4 294.1 379.8 295.1 379.7C296.1 379.6 297.0 379.5 297.6 378.5C298.2 377.5 298.5 375.9 298.9 373.9C299.3 371.8 299.5 368.8 299.8 366.2C300.1 363.6 300.3 360.0 300.6 358.0C300.9 356.0 301.2 354.8 301.4 354.0C301.6 353.2 301.7 353.1 301.9 353.1C302.1 353.1 302.3 353.4 302.5 354.0C302.7 354.6 302.8 355.1 303.2 356.9C303.6 358.6 304.3 362.1 304.9 364.5C305.5 366.9 306.1 369.0 307.0 371.3C307.9 373.6 309.1 376.2 310.4 378.1C311.7 380.0 313.1 381.2 314.6 382.4C316.2 383.6 318.2 384.4 319.7 385.1C321.2 385.9 321.7 386.5 323.4 386.9C325.1 387.3 327.9 387.5 330.1 387.5C332.3 387.5 334.6 387.3 336.5 386.7C338.4 386.1 340.3 384.7 341.6 384.1C342.9 383.5 343.5 382.8 344.1 383.2C344.7 383.6 344.7 384.2 345.1 386.7C345.5 389.2 346.0 395.1 346.4 398.1C346.8 401.1 347.2 403.1 347.7 404.5C348.2 405.9 348.1 406.6 349.2 406.4C350.3 406.2 352.0 404.4 354.3 403.2C356.6 402.0 360.6 400.2 363.2 399.4C365.8 398.6 367.2 398.7 370.0 398.2C372.8 397.7 377.6 397.0 380.0 396.5C382.4 396.0 383.0 395.8 384.5 395.1C386.0 394.4 387.5 393.4 388.9 392.1C390.2 390.9 391.4 389.2 392.6 387.6C393.8 386.0 394.9 383.9 396.3 382.4C397.7 380.9 399.1 379.4 400.8 378.4C402.6 377.4 404.1 376.8 406.8 376.2C409.5 375.6 413.2 375.3 417.2 375.0C421.1 374.7 425.9 374.6 430.5 374.5C435.1 374.4 442.5 374.4 444.9 374.4" stroke="#2450ff"/>
<path d="M278.2 402.2C279.4 402.2 283.0 402.0 285.2 402.2C287.4 402.4 289.6 403.1 291.6 403.5C293.6 403.9 295.8 404.8 297.3 404.7C298.8 404.6 299.6 404.1 300.5 402.8C301.4 401.5 301.9 399.0 302.4 397.0C302.9 395.0 303.0 393.3 303.3 391.0C303.6 388.7 304.0 385.6 304.3 383.3C304.6 381.1 304.9 378.8 305.2 377.5C305.5 376.2 305.7 375.4 306.0 375.4C306.3 375.4 306.5 376.0 306.9 377.3C307.3 378.6 307.8 381.2 308.6 383.3C309.4 385.4 310.3 388.0 311.5 390.1C312.7 392.2 314.1 394.3 315.8 396.0C317.5 397.7 319.9 399.3 321.7 400.3C323.5 401.3 325.1 401.6 326.5 402.0C327.9 402.4 328.7 402.5 330.1 402.6C331.6 402.7 333.7 402.8 335.2 402.6C336.7 402.4 338.0 401.7 339.0 401.3C340.0 400.9 340.8 399.9 341.3 400.4C341.8 400.9 341.8 401.9 342.2 404.5C342.6 407.1 343.1 412.8 343.5 416.0C343.9 419.2 343.9 421.7 344.4 423.6C344.8 425.5 345.2 427.3 346.2 427.5C347.2 427.7 348.5 426.0 350.5 424.9C352.5 423.8 355.6 422.2 358.1 421.1C360.7 420.0 363.8 419.2 365.8 418.5C367.8 417.8 368.2 417.9 370.0 417.1C371.8 416.3 374.8 415.0 376.8 413.7C378.8 412.4 380.2 411.0 381.9 409.4C383.6 407.8 385.3 405.3 387.0 403.8C388.7 402.3 390.0 401.2 392.0 400.3C394.0 399.4 395.5 398.9 398.9 398.5C402.3 398.1 404.9 398.1 412.5 397.9C420.1 397.7 439.3 397.6 444.7 397.5" stroke="#2450ff"/>
<path d="M278.2 425.5C279.4 425.5 283.0 425.4 285.2 425.5C287.4 425.6 289.5 425.8 291.6 426.0C293.7 426.2 296.1 426.8 297.9 427.0C299.7 427.2 301.1 427.6 302.4 427.0C303.7 426.4 304.8 425.5 305.6 423.2C306.5 420.9 306.9 416.8 307.5 413.0C308.1 409.2 308.8 403.3 309.4 400.3C310.0 397.3 310.7 395.4 311.3 395.2C311.9 395.0 312.2 397.2 313.2 399.0C314.1 400.8 315.5 404.0 317.0 406.0C318.5 408.0 320.4 409.9 322.1 411.1C323.8 412.3 325.7 412.9 327.2 413.3C328.7 413.7 329.7 413.7 331.0 413.7C332.3 413.7 334.1 413.6 335.2 413.4C336.3 413.2 337.1 412.1 337.7 412.5C338.3 412.9 338.6 413.7 339.0 416.0C339.4 418.3 339.9 422.9 340.3 426.1C340.7 429.3 341.0 432.7 341.4 435.3C341.8 437.9 342.0 440.4 342.5 442.0C343.0 443.6 343.2 444.9 344.4 444.9C345.6 444.9 347.3 443.4 349.6 442.0C351.9 440.6 355.4 438.7 358.4 436.8C361.3 434.9 365.4 431.9 367.3 430.6C369.2 429.3 369.0 430.0 370.0 429.0C371.0 428.0 372.1 425.9 373.4 424.7C374.7 423.5 375.9 422.5 377.6 421.8C379.3 421.1 380.6 420.7 383.6 420.5C386.6 420.3 390.7 420.4 395.5 420.5C400.3 420.6 406.9 420.9 412.5 421.0C418.1 421.1 424.0 421.2 429.4 421.3C434.8 421.4 442.1 421.5 444.7 421.5" stroke="#2450ff"/>
<path d="M278.2 447.4C279.4 447.4 283.0 447.4 285.2 447.4C287.4 447.4 289.5 447.4 291.6 447.6C293.7 447.8 295.9 448.4 297.9 448.7C299.9 449.0 302.1 449.4 303.7 449.3C305.3 449.2 306.4 449.0 307.5 448.1C308.6 447.2 309.1 446.2 310.0 443.8C310.9 441.4 311.9 436.8 312.6 433.4C313.4 430.0 313.9 426.1 314.5 423.2C315.1 420.3 315.8 417.6 316.4 416.2C317.0 414.8 317.6 414.6 318.3 414.6C319.1 414.6 319.8 415.3 320.9 416.2C322.0 417.1 323.4 419.0 324.7 420.0C326.0 421.0 327.3 421.8 328.6 422.2C329.9 422.6 331.3 422.4 332.5 422.5C333.7 422.6 335.2 422.9 335.8 423.0C335.9 423.5 336.3 423.2 336.6 426.0C336.9 428.8 337.1 435.5 337.4 439.8C337.7 444.1 338.1 448.7 338.5 451.6C338.9 454.6 339.3 456.2 339.9 457.5C340.5 458.8 340.8 459.6 341.9 459.3C343.0 459.1 344.6 457.6 346.6 456.0C348.6 454.4 351.5 451.4 354.0 449.4C356.5 447.4 358.9 445.4 361.4 444.2C363.9 443.0 366.2 442.5 368.8 442.0C371.4 441.5 373.8 441.2 376.8 441.2C379.8 441.2 382.5 441.8 387.0 442.2C391.5 442.6 398.3 443.5 404.0 443.9C409.7 444.3 414.2 444.5 421.0 444.6C427.8 444.8 440.8 444.8 444.7 444.8" stroke="#1fa51f"/>
<path d="M278.2 469.2C279.4 469.1 282.5 468.7 285.2 468.6C287.9 468.5 291.1 468.7 294.1 468.8C297.1 468.9 300.4 469.5 303.0 469.5C305.6 469.5 307.7 469.4 309.4 468.9C311.1 468.4 312.0 467.9 313.2 466.7C314.4 465.5 315.5 463.8 316.4 461.6C317.3 459.4 317.9 456.3 318.6 453.5C319.4 450.7 320.1 447.8 320.9 444.9C321.7 442.0 322.6 438.3 323.4 436.0C324.2 433.7 325.0 432.2 325.9 431.0C326.8 429.8 327.8 429.1 328.8 428.5C329.8 427.9 331.2 427.4 332.0 427.4C332.8 427.4 333.4 428.5 333.7 428.7C333.9 430.1 334.4 434.7 334.6 437.0C334.8 439.3 334.8 439.3 335.1 442.7C335.4 446.1 335.9 453.9 336.3 457.5C336.7 461.1 337.1 462.7 337.7 464.2C338.3 465.7 338.7 466.4 339.9 466.4C341.1 466.4 343.0 465.0 345.1 464.2C347.2 463.4 350.0 462.1 352.5 461.6C355.0 461.1 357.2 461.1 359.9 461.2C362.6 461.3 365.4 461.7 368.8 462.2C372.2 462.7 377.0 463.6 380.0 464.0C383.0 464.4 383.0 464.2 387.0 464.6C391.0 465.0 398.3 465.8 404.0 466.3C409.7 466.8 414.2 467.2 421.0 467.5C427.8 467.8 440.8 467.9 444.7 468.0" stroke="#1fa51f"/>
<path d="M278.2 476.2C279.4 476.2 282.5 476.2 285.2 476.2C287.9 476.2 291.1 476.0 294.1 476.0C297.1 476.0 300.2 476.2 303.0 476.0C305.8 475.8 308.4 475.6 310.7 474.9C313.0 474.2 315.1 473.3 317.0 471.8C318.9 470.3 320.6 468.4 322.1 466.0C323.6 463.6 324.9 460.3 326.0 457.7C327.1 455.1 327.8 452.1 328.5 450.1C329.2 448.1 329.8 446.7 330.2 445.5C330.6 444.3 330.8 442.6 331.2 443.1C331.6 443.6 331.9 446.0 332.3 448.6C332.7 451.2 332.9 455.9 333.3 459.0C333.7 462.1 334.2 465.1 334.8 467.1C335.4 469.1 335.8 470.4 337.0 470.8C338.2 471.2 340.1 470.0 342.2 469.6C344.3 469.2 346.9 468.7 349.6 468.6C352.3 468.6 355.2 468.9 358.4 469.3C361.6 469.7 365.2 470.5 368.8 471.1C372.4 471.7 377.0 472.3 380.0 472.8C383.0 473.3 383.0 473.5 387.0 474.0C391.0 474.5 398.3 475.2 404.0 475.7C409.7 476.2 414.2 476.6 421.0 476.9C427.8 477.2 440.8 477.4 444.7 477.5" stroke="#1fa51f"/>
<path d="M278.2 478.8C278.7 479.1 280.2 480.1 281.4 480.7C282.6 481.3 283.1 481.9 285.2 482.2C287.3 482.5 291.1 482.5 294.1 482.6C297.1 482.7 300.0 482.7 303.0 482.6C306.0 482.6 309.3 482.7 311.9 482.3C314.4 481.9 316.4 480.9 318.3 480.0C320.2 479.1 322.0 477.8 323.4 476.8C324.8 475.8 325.7 474.5 326.6 473.9C327.5 473.3 328.1 472.5 328.7 473.0C329.2 473.5 329.5 474.1 329.9 476.8C330.3 479.5 330.6 485.1 331.0 489.0C331.4 492.9 331.7 497.2 332.1 500.0C332.5 502.8 332.9 504.3 333.4 505.5C333.8 506.7 334.2 507.2 334.8 507.0C335.4 506.8 336.3 505.5 337.0 504.1C337.7 502.8 338.3 500.5 339.2 498.9C340.1 497.3 340.5 496.1 342.2 494.5C343.9 492.9 347.2 490.7 349.6 489.3C352.1 487.9 353.9 487.0 356.9 486.3C359.8 485.6 363.4 485.2 367.3 485.1C371.2 485.0 376.7 485.3 380.0 485.6C383.3 485.9 383.0 486.4 387.0 486.7C391.0 487.0 398.3 487.4 404.0 487.7C409.7 488.0 414.2 488.2 421.0 488.4C427.8 488.6 440.8 488.7 444.7 488.8" stroke="#1fa51f"/>
</g>
<!-- panel a axes -->
<g class="ax">
<path d="M55.85 68V513"/>
<path d="M50 68.5H56M50 185.5H56M50 301.5H56M50 418.5H56" stroke="#111"/>
<path d="M55.4 512.5H223"/>
<path d="M56.9 512.5V518M90 512.5V518M123.1 512.5V518M156.3 512.5V518M189.4 512.5V518M222.5 512.5V518"/>
</g>
<!-- panel b axes -->
<g class="ax">
<path d="M277.6 68.5V513"/>
<path d="M271.2 83.5H277.5M271.2 142.5H277.5M271.2 202.5H277.5M271.2 261.5H277.5M271.2 321.5H277.5M271.2 380.5H277.5M271.2 440.5H277.5M271.2 499.5H277.5" stroke="#111"/>
<path d="M277 512.5H445"/>
<path d="M278.5 512.5V518M311.7 512.5V518M344.9 512.5V518M378.1 512.5V518M411.3 512.5V518M444.5 512.5V518"/>
</g>
<g class="t">
<g font-size="13.4" text-anchor="end">
<text transform="translate(46.5 73.6) scale(1.05 1)">60</text>
<text transform="translate(46.5 190.6) scale(1.05 1)">40</text>
<text transform="translate(46.5 306.6) scale(1.05 1)">20</text>
<text transform="translate(46.5 423.6) scale(1.05 1)">0</text>
<text transform="translate(268.4 88.6) scale(1.05 1)">80</text>
<text transform="translate(268.4 147.6) scale(1.05 1)">60</text>
<text transform="translate(268.4 207.6) scale(1.05 1)">40</text>
<text transform="translate(268.4 266.6) scale(1.05 1)">20</text>
<text transform="translate(268.4 326.6) scale(1.05 1)">0</text>
<text transform="translate(268.4 385.6) scale(1.05 1)">-20</text>
<text transform="translate(268.4 445.6) scale(1.05 1)">-40</text>
<text transform="translate(268.4 504.6) scale(1.05 1)">-60</text>
</g>
<g font-size="13.4" text-anchor="middle">
<text transform="translate(57 534) scale(1.05 1)">0.0</text>
<text transform="translate(90.2 534) scale(1.05 1)">0.2</text>
<text transform="translate(123.4 534) scale(1.05 1)">0.4</text>
<text transform="translate(156.6 534) scale(1.05 1)">0.6</text>
<text transform="translate(189.8 534) scale(1.05 1)">0.8</text>
<text transform="translate(223 534) scale(1.05 1)">1.0</text>
<text transform="translate(279.1 534) scale(1.05 1)">0.0</text>
<text transform="translate(312.3 534) scale(1.05 1)">0.2</text>
<text transform="translate(345.5 534) scale(1.05 1)">0.4</text>
<text transform="translate(378.7 534) scale(1.05 1)">0.6</text>
<text transform="translate(411.9 534) scale(1.05 1)">0.8</text>
<text transform="translate(445.1 534) scale(1.05 1)">1.0</text>
</g>
<g font-size="14.1">
<text transform="translate(61.6 90.2) scale(1.17 1)">(a)</text>
<text transform="translate(283.1 88.7) scale(1.17 1)">(b)</text>
</g>
<g font-size="14.3">
<text transform="translate(36.9 269.3) rotate(-90) scale(1.14 1)">1/eV</text>
<text transform="translate(243.1 188.4) rotate(-90) scale(1.14 1)">1/eV</text>
<text transform="translate(124.6 545.8) scale(1.1 1)">q</text>
<text x="133" y="551.8" font-size="8.6">x</text>
<text transform="translate(142.6 545.8) scale(1.15 1)">/</text>
<text transform="translate(147.2 545.8) scale(0.98 1)">π</text>
<text transform="translate(346.8 545.8) scale(1.1 1)">q</text>
<text x="355.2" y="551.8" font-size="8.6">x</text>
<text transform="translate(364.8 545.8) scale(1.15 1)">/</text>
<text transform="translate(369.4 545.8) scale(0.98 1)">π</text>
</g>
</g>
</svg>
</body></html>
